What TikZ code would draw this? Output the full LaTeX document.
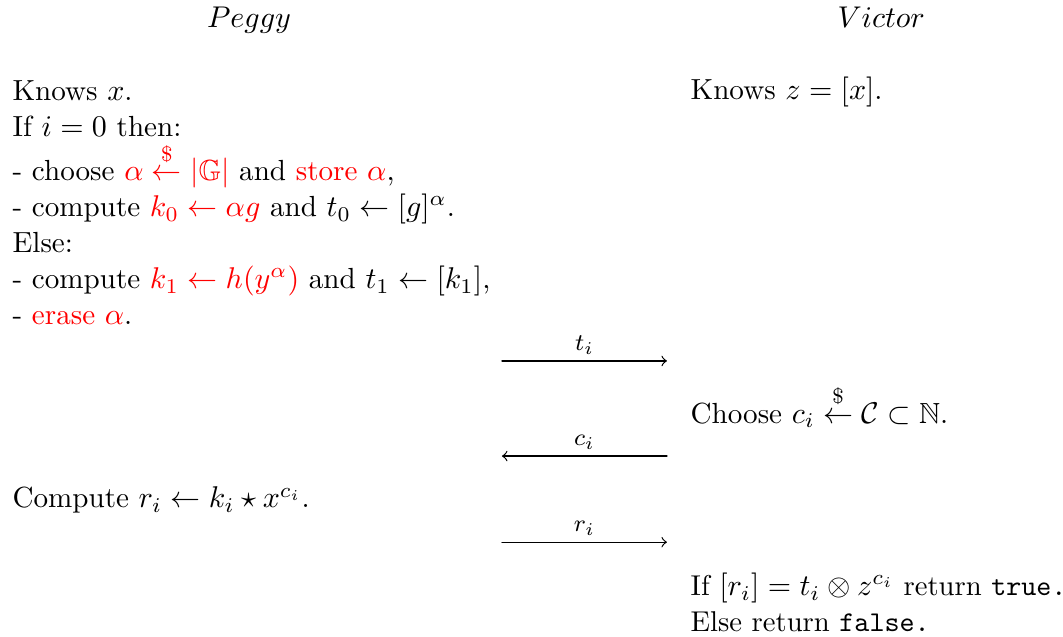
\documentclass[tikz,border=0pt]{standalone}
\usepackage{amsmath, amssymb}
\usepackage{xcolor}
\usepackage{tikz}
\usetikzlibrary{positioning}

\begin{document}
\begin{tikzpicture}[x=1pt, y=1pt, >=to, line cap=round,
    every node/.style={font=\fontsize{9.7}{12}\selectfont},
    side/.style={inner sep=0pt, anchor=north west, align=left},
    line/.style={inner sep=0pt, anchor=base west},
    msg/.style={->},
    msglabel/.style={above=1pt, inner sep=1pt, font=\footnotesize}]
  \useasboundingbox (0,0) rectangle (354.3,-212);
  % parter
  \node[inner sep=0pt, anchor=base] (peggy) at (83,-9) {$Peggy$};
  \node[inner sep=0pt, anchor=base] (victor) at (293.7,-9) {$Victor$};
  % peggy
  \node[side] (commit) at (4,-26.6) {Knows $x$.\\
    If $i=0$ then:\\[1.1pt]
    - choose \textcolor{red}{$\alpha \stackrel{\raisebox{0.8pt}{$\scriptstyle\$$}}{\leftarrow} |\mathbb{G}|$} and \textcolor{red}{store $\alpha$},\\
    - compute \textcolor{red}{$k_0 \leftarrow \alpha g$} and $t_0 \leftarrow [g]^{\alpha}$.\\
    Else:\\
    - compute \textcolor{red}{$k_1 \leftarrow h(y^{\alpha})$} and $t_1 \leftarrow [k_1]$,\\
    - \textcolor{red}{erase $\alpha$}.};
  \node[line] (respond) at (4,-169.3) {Compute $r_i \leftarrow k_i \star x^{c_i}$.};
  % victor
  \node[line] (knowsV) at (230,-33.3) {Knows $z=[x]$.};
  \node[line] (challenge) at (230,-141) {Choose $c_i \stackrel{\raisebox{0.8pt}{$\scriptstyle\$$}}{\leftarrow} \mathcal{C} \subset \mathbb{N}$.};
  \node[side, font=\fontsize{9.55}{12}\selectfont] (verify) at (230,-190.9) {If $[r_i] = t_i \otimes z^{c_i}$ return \texttt{true.}\\
    Else return \texttt{false.}};
  % beskeder
  \coordinate (tA) at (167.3,-120.3);
  \coordinate (tB) at (222.3,-120.3);
  \coordinate (cA) at (167.3,-152);
  \coordinate (cB) at (222.3,-152);
  \coordinate (rA) at (167.3,-180.7);
  \coordinate (rB) at (222.3,-180.7);
  \draw[msg] (tA) -- node[msglabel] {$t_i$} (tB);
  \draw[msg] (cB) -- node[msglabel] {$c_i$} (cA);
  \draw[msg] (rA) -- node[msglabel] {$r_i$} (rB);
\end{tikzpicture}
\end{document}
